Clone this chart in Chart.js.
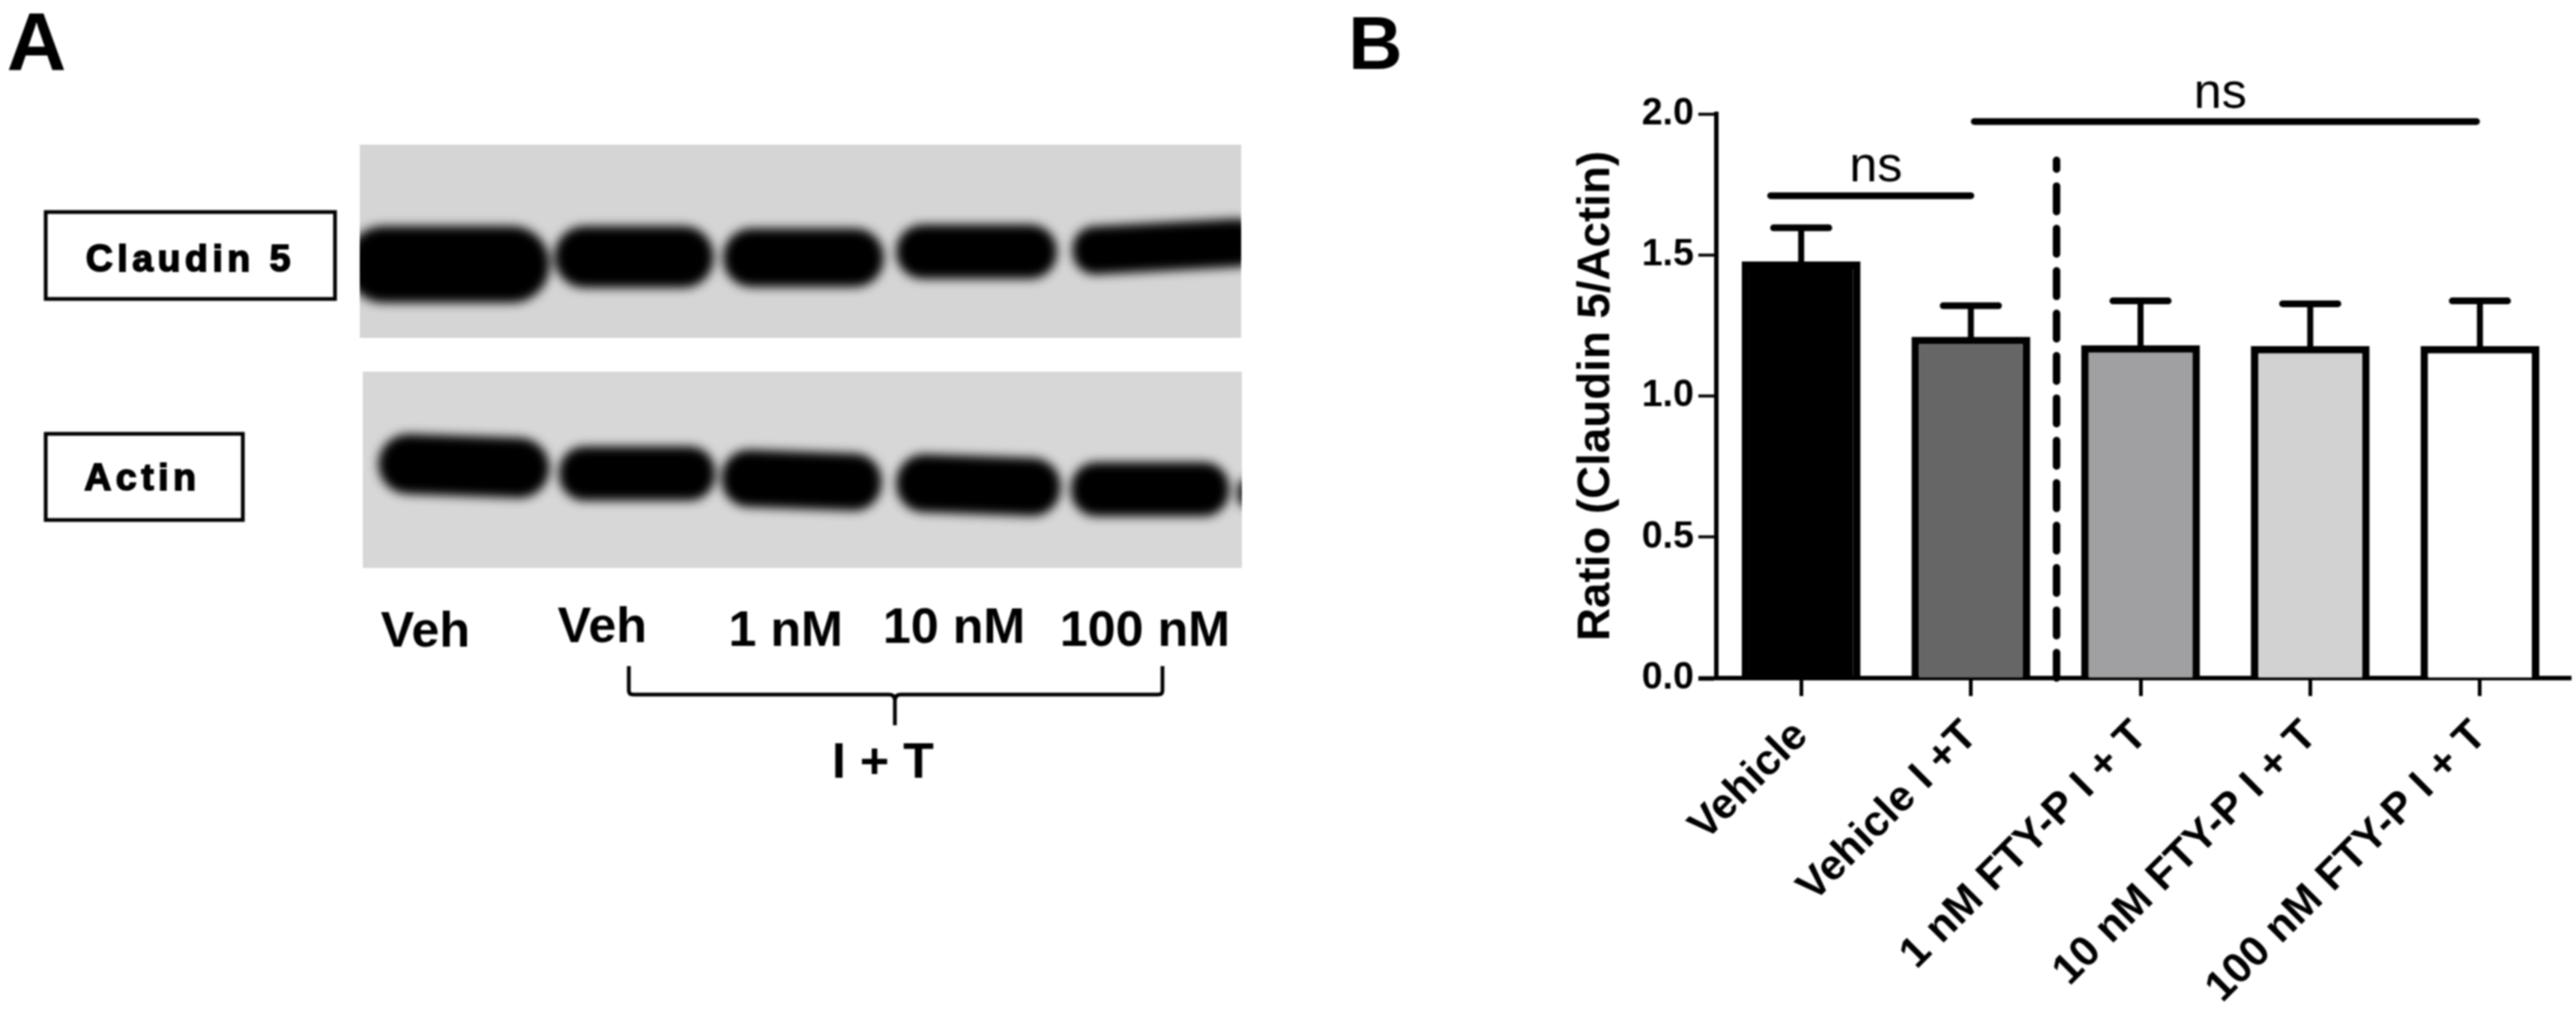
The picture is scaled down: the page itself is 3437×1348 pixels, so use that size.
<!DOCTYPE html>
<html>
<head>
<meta charset="utf-8">
<title>Claudin 5 / Actin</title>
<script src="https://cdn.jsdelivr.net/npm/chart.js@4"></script>
<style>
    html, body { margin: 0; padding: 0; background: #fff; }
    #page { position: relative; width: 3437px; height: 1348px; overflow: hidden; filter: blur(1px); }
    #blot, #resultsChart { position: absolute; left: 0; top: 0; }
    text { font-family: "Liberation Sans", Arial, sans-serif; font-weight: bold; fill: #000; }
</style>
</head>
<body>
<div id="page">
    <!-- Panel A: western blot illustration -->
    <svg id="blot" width="3437" height="1348" viewBox="0 0 3437 1348">
        <defs>
            <filter id="soft" x="-10%" y="-30%" width="120%" height="160%"><feGaussianBlur stdDeviation="7"/></filter>
            <clipPath id="topClip"><rect x="480" y="193" width="1176" height="258"/></clipPath>
            <clipPath id="lowClip"><rect x="484" y="496" width="1173" height="262"/></clipPath>
        </defs>

        <text x="9" y="93" font-size="110">A</text>
        <text x="1799" y="92" font-size="100">B</text>

        <rect x="480" y="193" width="1176" height="258" fill="#d5d5d5"/>
        <g clip-path="url(#topClip)">
            <g filter="url(#soft)" fill="#000">
                <rect x="462" y="302" width="271" height="102" rx="50"/>
                <rect x="740" y="302" width="212" height="82" rx="40"/>
                <rect x="965" y="305" width="214" height="78" rx="38"/>
                <rect x="1196" y="300" width="214" height="72" rx="35"/>
                <rect x="1431" y="298" width="250" height="64" rx="30" transform="rotate(-3 1540 330)"/>
            </g>
        </g>

        <rect x="484" y="496" width="1173" height="262" fill="#d7d7d7"/>
        <g clip-path="url(#lowClip)">
            <g filter="url(#soft)" fill="#000">
                <rect x="505" y="582" width="228" height="80" rx="40" transform="rotate(2 620 622)"/>
                <rect x="746" y="596" width="208" height="72" rx="34"/>
                <rect x="963" y="603" width="213" height="76" rx="36" transform="rotate(2 1070 640)"/>
                <rect x="1196" y="609" width="219" height="77" rx="37" transform="rotate(2 1305 647)"/>
                <rect x="1429" y="617" width="211" height="72" rx="34"/>
                <rect x="1652" y="640" width="30" height="36" rx="10"/>
            </g>
        </g>

        <rect x="61" y="283" width="386" height="116" fill="#fff" stroke="#000" stroke-width="5"/>
        <text x="254" y="362" font-size="50" letter-spacing="6" text-anchor="middle" stroke="#000" stroke-width="2">Claudin 5</text>
        <rect x="61" y="579" width="263" height="115" fill="#fff" stroke="#000" stroke-width="5"/>
        <text x="190" y="654" font-size="50" letter-spacing="6" text-anchor="middle" stroke="#000" stroke-width="2">Actin</text>

        <text x="508" y="863" font-size="67">Veh</text>
        <text x="744" y="857" font-size="67">Veh</text>
        <text x="972" y="862" font-size="67">1 nM</text>
        <text x="1178" y="858" font-size="67">10 nM</text>
        <text x="1414" y="862" font-size="67">100 nM</text>

        <path d="M839 889 V922 Q839 927 845 927 H1186 Q1194 927 1194 935 V968 M1194 935 Q1194 927 1202 927 H1545 Q1551 927 1551 922 V889"
              fill="none" stroke="#000" stroke-width="5"/>
        <text x="1178" y="1038" font-size="67" text-anchor="middle">I + T</text>
    </svg>

    <canvas id="resultsChart" width="3437" height="1348"></canvas>
</div>

<script>
"use strict";

// Panel B data
const categories = ['Vehicle', 'Vehicle I +T', '1 nM FTY-P I + T', '10 nM FTY-P I + T', '100 nM FTY-P I + T'];
const ratioValues = [1.477, 1.21, 1.18, 1.177, 1.177];
const errorTops = [1.596, 1.32, 1.337, 1.327, 1.337];
const barColors = ['#000000', '#666666', '#a0a0a2', '#d2d2d2', '#ffffff'];

// Significance bars and separator, x in bar-index units
const nsLeftX = [-0.18, 1.0];
const nsLeftY = [1.71, 1.71];
const nsRightX = [1.02, 3.98];
const nsRightY = [1.973, 1.973];
const dividerX = [1.505, 1.505];
const dividerY = [0, 1.835];
const nsLabelX = [0.44, 2.47];
const nsLabelY = [1.76, 2.02];

// Error bars, "ns" markers, separator, axis overhang on the right
const overlayPlugin = {
    id: 'overlay',
    afterDatasetsDraw(chart) {
        const ctx = chart.ctx;
        const xScale = chart.scales.x;
        const yScale = chart.scales.y;

        function segment(xs, ys, width) {
            ctx.lineWidth = width;
            ctx.beginPath();
            ctx.moveTo(xScale.getPixelForValue(xs[0]), yScale.getPixelForValue(ys[0]));
            ctx.lineTo(xScale.getPixelForValue(xs[1]), yScale.getPixelForValue(ys[1]));
            ctx.stroke();
        }

        ctx.save();
        ctx.strokeStyle = '#000';
        ctx.lineCap = 'round';
        ratioValues.forEach((value, i) => {
            segment([i, i], [value, errorTops[i]], 8);
            segment([i - 0.163, i + 0.163], [errorTops[i], errorTops[i]], 9);
        });

        segment(nsLeftX, nsLeftY, 9);
        segment(nsRightX, nsRightY, 9);

        ctx.setLineDash([34, 22.6]);
        segment(dividerX, dividerY, 10);
        ctx.setLineDash([]);

        ctx.lineCap = 'butt';
        ctx.lineWidth = 6;
        ctx.beginPath();
        ctx.moveTo(chart.chartArea.right, yScale.getPixelForValue(0));
        ctx.lineTo(chart.chartArea.right + 9, yScale.getPixelForValue(0));
        ctx.stroke();

        ctx.fillStyle = '#000';
        ctx.font = '67px "Liberation Sans"';
        ctx.textAlign = 'center';
        ctx.textBaseline = 'alphabetic';
        nsLabelX.forEach((x, i) => {
            ctx.fillText('ns', xScale.getPixelForValue(x), yScale.getPixelForValue(nsLabelY[i]));
        });
        ctx.restore();
    }
};

new Chart(document.getElementById('resultsChart'), {
    type: 'bar',
    data: {
        labels: categories,
        datasets: [{
            data: ratioValues,
            backgroundColor: barColors,
            borderColor: '#000',
            borderWidth: 10,
            barPercentage: 0.7,
            categoryPercentage: 1
        }]
    },
    options: {
        responsive: false,
        animation: false,
        layout: { padding: { left: 2097, right: 15, top: 152, bottom: 0 } },
        plugins: { legend: { display: false }, tooltip: { enabled: false } },
        scales: {
            x: {
                afterFit: scale => { scale.height = 443; },
                border: { color: '#000', width: 6 },
                grid: { offset: false, drawOnChartArea: false, color: '#000', tickLength: 24, tickWidth: 5 },
                ticks: {
                    autoSkip: false,
                    minRotation: 45,
                    maxRotation: 45,
                    padding: 20,
                    color: '#000',
                    font: { family: '"Liberation Sans"', weight: 'bold', size: 57 }
                }
            },
            y: {
                min: 0,
                max: 2,
                afterFit: scale => { scale.width = 193; },
                border: { color: '#000', width: 6 },
                grid: {
                    drawOnChartArea: false,
                    color: '#000',
                    tickLength: 24,
                    tickWidth: ctx => (ctx.tick.value === 0 ? 6 : 4)
                },
                ticks: {
                    stepSize: 0.5,
                    padding: 6,
                    color: '#000',
                    font: { family: '"Liberation Sans"', weight: 'bold', size: 50 },
                    callback: value => value.toFixed(1)
                },
                title: {
                    display: true,
                    text: 'Ratio (Claudin 5/Actin)',
                    color: '#000',
                    padding: 3,
                    font: { family: '"Liberation Sans"', weight: 'bold', size: 61, lineHeight: 1 }
                }
            }
        }
    },
    plugins: [overlayPlugin]
});
</script>
</body>
</html>
